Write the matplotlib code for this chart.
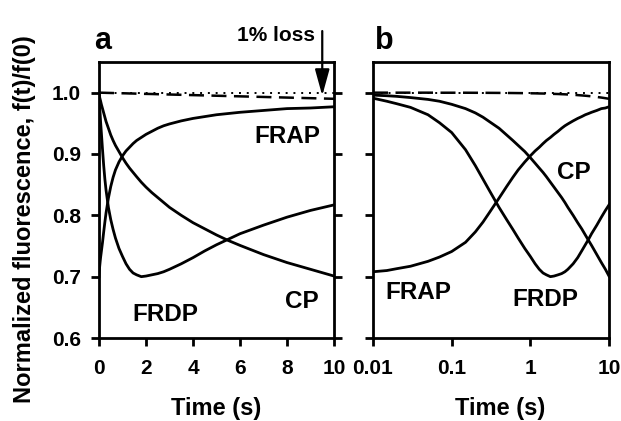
import matplotlib
matplotlib.use("Agg")
import matplotlib.pyplot as plt

plt.rcParams['font.family'] = ['Liberation Sans', 'DejaVu Sans']
plt.rcParams['font.weight'] = 'bold'

# time points (s) and curves
t = [0, 0.01, 0.015, 0.02, 0.03, 0.05, 0.07, 0.1, 0.15, 0.2, 0.25, 0.3, 0.4,
     0.5, 0.6, 0.7, 0.85, 1, 1.15, 1.3, 1.45, 1.6, 1.8, 2, 2.25, 2.5, 2.75,
     3, 3.5, 4, 4.5, 5, 5.5, 6, 7, 8, 9, 10]
frap = [0.700, 0.708, 0.710, 0.713, 0.717, 0.725, 0.732, 0.741, 0.756, 0.773,
        0.789, 0.804, 0.828, 0.847, 0.862, 0.874, 0.887, 0.897, 0.905, 0.911,
        0.917, 0.922, 0.927, 0.932, 0.937, 0.942, 0.946, 0.949, 0.954, 0.958,
        0.961, 0.964, 0.966, 0.968, 0.971, 0.974, 0.975, 0.977]
cp = [1.000, 0.996, 0.995, 0.994, 0.992, 0.989, 0.986, 0.981, 0.974, 0.967,
      0.960, 0.953, 0.942, 0.931, 0.922, 0.914, 0.904, 0.894, 0.885, 0.877,
      0.870, 0.863, 0.854, 0.846, 0.837, 0.829, 0.821, 0.813, 0.800, 0.788,
      0.778, 0.768, 0.759, 0.751, 0.736, 0.723, 0.712, 0.701]
frdp = [1.000, 0.991, 0.986, 0.982, 0.976, 0.964, 0.951, 0.935, 0.907, 0.881,
        0.859, 0.841, 0.813, 0.793, 0.777, 0.763, 0.746, 0.733, 0.721, 0.712,
        0.706, 0.703, 0.700, 0.701, 0.703, 0.705, 0.708, 0.712, 0.721, 0.731,
        0.742, 0.752, 0.761, 0.770, 0.784, 0.797, 0.808, 0.817]
bleach = [1.000, 1.000, 1.000, 1.000, 1.000, 1.000, 0.9999, 0.9999, 0.9999,
          0.9998, 0.9998, 0.9997, 0.9996, 0.9995, 0.9994, 0.9993, 0.9992,
          0.999, 0.9989, 0.9987, 0.9986, 0.9984, 0.9982, 0.998, 0.9978,
          0.9975, 0.9973, 0.997, 0.9965, 0.996, 0.9955, 0.995, 0.9945, 0.994,
          0.993, 0.992, 0.991, 0.990]
ref = [1.0] * len(t)

fig = plt.figure(figsize=(6.21, 4.21), dpi=100)
ax1 = fig.add_axes([99 / 621, 83 / 421, 235 / 621, 276 / 421])
ax2 = fig.add_axes([373 / 621, 83 / 421, 236 / 621, 276 / 421])

lw = 2.0
for ax, start in ((ax1, 0), (ax2, 1)):
    tt = t[start:]
    ax.plot(tt, ref[start:], color='k', lw=1.4, ls=(0, (1, 3)))
    ax.plot(tt, bleach[start:], color='k', lw=1.8, ls=(0, (6, 3)))
    ax.plot(tt, frap[start:], color='k', lw=lw)
    ax.plot(tt, cp[start:], color='k', lw=lw)
    ax.plot(tt, frdp[start:], color='k', lw=lw)
    ax.set_ylim(0.6, 1.05)
    for s in ax.spines.values():
        s.set_linewidth(2.0)
    ax.tick_params(direction='out', length=6, width=2.0, labelsize=15, pad=7)
    ax.tick_params(axis='x', pad=9)

ax1.set_xlim(0, 10)
ax1.set_xticks([0, 2, 4, 6, 8, 10])
ax1.set_yticks([0.6, 0.7, 0.8, 0.9, 1.0])
ax1.set_yticklabels(['0.6', '0.7', '0.8', '0.9', '1.0'])
ax1.tick_params(axis='y', right=True)

ax2.set_xscale('log')
ax2.set_xlim(0.01, 10)
ax2.set_xticks([0.01, 0.1, 1, 10])
ax2.set_xticklabels(['0.01', '0.1', '1', '10'])
ax2.xaxis.set_minor_locator(matplotlib.ticker.NullLocator())
ax2.set_yticks([0.6, 0.7, 0.8, 0.9, 1.0])
ax2.set_yticklabels([])

ax1.set_xlabel('Time (s)', fontsize=17, fontweight='bold')
ax1.xaxis.set_label_coords(0.5, -0.212)
ax2.set_xlabel('Time (s)', fontsize=17, fontweight='bold')
ax2.xaxis.set_label_coords(0.54, -0.212)
ax1.set_ylabel('Normalized fluorescence, f(t)/f(0)', fontsize=17, fontweight='bold')
ax1.yaxis.set_label_coords(-0.27, 0.43)

lab = dict(fontsize=17.5, fontweight='bold', ha='center', va='center')
ax1.text(8.0, 0.928, 'FRAP', **lab)
ax1.text(2.84, 0.639, 'FRDP', **lab)
ax1.text(8.62, 0.659, 'CP', **lab)
ax2.text(3.53, 0.870, 'CP', **lab)
ax2.text(0.0378, 0.674, 'FRAP', **lab)
ax2.text(1.535, 0.662, 'FRDP', **lab)

ax1.text(-0.2, 1.085, 'a', fontsize=22, fontweight='bold', ha='left', va='center')
ax2.text(0.0105, 1.085, 'b', fontsize=22, fontweight='bold', ha='left', va='center')

ax1.text(9.2, 1.094, '1% loss', fontsize=15, fontweight='bold', ha='right', va='center')
ax1.annotate('', xy=(9.5, 0.9905), xytext=(9.5, 1.105), annotation_clip=False,
             arrowprops=dict(arrowstyle='-|>,head_length=0.8,head_width=0.22',
                             mutation_scale=20, lw=1.6, color='k'))

fig.savefig('out.png', dpi=100)
